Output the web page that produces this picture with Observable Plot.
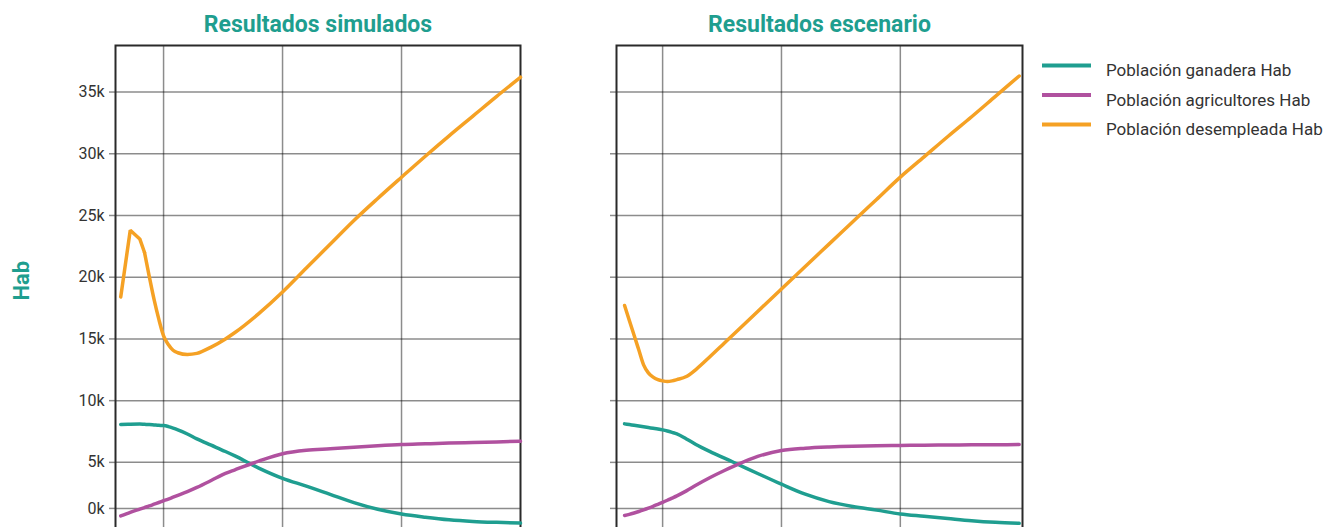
<!DOCTYPE html>
<html>
<head>
<meta charset="utf-8">
<script src="https://cdn.jsdelivr.net/npm/d3@7"></script>
<script src="https://cdn.jsdelivr.net/npm/@observablehq/plot@0.6"></script>
<style>
  html, body { margin: 0; padding: 0; background: #fff; overflow: hidden; width: 1338px; height: 527px; }
  #root { position: relative; width: 1338px; height: 527px; font-family: Roboto, "Noto Sans", sans-serif; }
  #root > * { position: absolute; }
</style>
</head>
<body>
<div id="root"></div>
<script>
// ---------------- DATA ----------------
const seriesNames = ["Población ganadera Hab", "Población agricultores Hab", "Población desempleada Hab"];
const seriesColors = ["#1f9e90", "#b0519f", "#f5a124"];
const panelTitles = ["Resultados simulados", "Resultados escenario"];
const yAxisLabel = "Hab";

const yTickValues = [1270, 5000, 10000, 15000, 20000, 25000, 30000, 35000];
const yTickLabels = ["0k", "5k", "10k", "15k", "20k", "25k", "30k", "35k"];
const xTickValues = [2025, 2050, 2075];

// Panel 1: Resultados simulados
const simYears = [2016, 2018, 2020, 2021, 2022, 2023, 2024, 2025, 2026, 2027, 2028, 2030, 2032, 2035, 2038, 2040, 2045, 2050, 2055, 2060, 2065, 2070, 2075, 2080, 2085, 2090, 2095, 2100];
const simGanadera = [8070, 8090, 8100, 8080, 8060, 8030, 8000, 7980, 7900, 7780, 7640, 7300, 6900, 6390, 5880, 5520, 4540, 3710, 3080, 2410, 1740, 1200, 820, 560, 350, 220, 140, 80];
const simAgricultores = [660, 950, 1210, 1340, 1470, 1610, 1750, 1890, 2030, 2180, 2330, 2630, 2970, 3530, 4110, 4400, 5100, 5700, 5980, 6100, 6220, 6340, 6440, 6500, 6560, 6610, 6660, 6710];
const simDesempleada = [18400, 23800, 23100, 22000, 20050, 18200, 16600, 15250, 14550, 14080, 13880, 13740, 13830, 14340, 15000, 15520, 17050, 18800, 20740, 22670, 24600, 26380, 28100, 29800, 31450, 33050, 34650, 36200];
// the early spike of the unemployed series is drawn with straight segments up to this year
const simSpikeEndYear = 2021;

// Panel 2: Resultados escenario
const escYears = [2017, 2018, 2019, 2020, 2021, 2022, 2023, 2024, 2025, 2026, 2027, 2028, 2030, 2032, 2035, 2038, 2040, 2045, 2050, 2055, 2060, 2065, 2070, 2075, 2080, 2085, 2090, 2095, 2100];
const escGanadera = [8120, 8060, 8000, 7940, 7880, 7820, 7760, 7700, 7630, 7540, 7430, 7310, 6900, 6450, 5870, 5340, 4990, 4100, 3230, 2420, 1820, 1420, 1130, 820, 635, 450, 270, 140, 60];
const escAgricultores = [700, 790, 900, 1020, 1150, 1290, 1440, 1600, 1760, 1930, 2110, 2290, 2690, 3140, 3770, 4340, 4690, 5480, 5960, 6150, 6250, 6310, 6340, 6370, 6390, 6410, 6420, 6430, 6440];
const escDesempleada = [17710, 16500, 15300, 14100, 12900, 12250, 11900, 11700, 11600, 11550, 11600, 11700, 11950, 12520, 13575, 14670, 15400, 17225, 19050, 20870, 22680, 24490, 26300, 28110, 29750, 31400, 33000, 34650, 36300];

// ---------------- STYLE ----------------
const titleColor = "#1f9e8f";
const textColor = "#333333";
const gridStroke = "#000000";
const gridOpacity = 0.45;

function toRows(years, seriesValues) {
  const rows = [];
  seriesNames.forEach((name, k) => {
    years.forEach((yr, i) => rows.push({year: yr, value: seriesValues[k][i], serie: name}));
  });
  return rows;
}

function makePanel({title, rows, spikeSerie, spikeEnd, xDomain, width, marginLeft, marginRight, showLabels, showHab}) {
  const isSpike = d => spikeSerie != null && d.serie === spikeSerie && d.year <= spikeEnd;
  const smoothRows = rows.filter(d => !(isSpike(d) && d.year < spikeEnd));
  const spikeRows = rows.filter(isSpike);
  const marks = [
    Plot.gridX(xTickValues, {stroke: gridStroke, strokeOpacity: gridOpacity, strokeWidth: 1.5}),
    Plot.gridY(yTickValues, {stroke: gridStroke, strokeOpacity: gridOpacity, strokeWidth: 1.5}),
    Plot.axisY(yTickValues, {
      tickSize: 6, tickPadding: 5,
      tickFormat: showLabels ? (d => yTickLabels[yTickValues.indexOf(d)]) : (() => ""),
      stroke: gridStroke, strokeOpacity: gridOpacity, strokeWidth: 1.5,
      fill: textColor, fontSize: 16, label: null
    }),
    Plot.frame({stroke: "#2a2a2a", strokeWidth: 2}),
    Plot.line(smoothRows, {x: "year", y: "value", z: "serie", stroke: "serie", strokeWidth: 3.5, curve: "monotone-x"}),
    Plot.line(spikeRows, {x: "year", y: "value", z: "serie", stroke: "serie", strokeWidth: 3.5, curve: "linear", strokeLinejoin: "miter"}),
    Plot.text([title], {text: d => d, frameAnchor: "top", lineAnchor: "middle", dy: -21, fontSize: 23, fontWeight: "bold", fill: titleColor})
  ];
  if (showHab) {
    marks.push(Plot.text([yAxisLabel], {text: d => d, frameAnchor: "left", dx: -94, dy: 12, rotate: -90, fontSize: 22, fontWeight: "bold", fill: titleColor}));
  }
  return Plot.plot({
    width, height: 561,
    marginLeft, marginRight, marginTop: 45, marginBottom: 30,
    style: {fontFamily: "Roboto, 'Noto Sans', sans-serif", background: "transparent", overflow: "visible"},
    x: {domain: xDomain, axis: null},
    y: {domain: [-600, 38770], axis: null},
    color: {domain: seriesNames, range: seriesColors},
    marks
  });
}

const root = document.getElementById("root");

const left = makePanel({
  title: panelTitles[0],
  rows: toRows(simYears, [simGanadera, simAgricultores, simDesempleada]),
  spikeSerie: seriesNames[2], spikeEnd: simSpikeEndYear,
  xDomain: [2014.9, 2100], width: 540, marginLeft: 115, marginRight: 20,
  showLabels: true, showHab: true
});
left.style.left = "0px"; left.style.top = "0px";
root.appendChild(left);

const right = makePanel({
  title: panelTitles[1],
  rows: toRows(escYears, [escGanadera, escAgricultores, escDesempleada]),
  spikeSerie: null, spikeEnd: null,
  xDomain: [2015.3, 2100.7], width: 480, marginLeft: 56, marginRight: 18,
  showLabels: false, showHab: false
});
right.style.left = "560px"; right.style.top = "0px";
root.appendChild(right);

// Legend
const legend = d3.create("svg")
  .attr("width", 308).attr("height", 110)
  .style("left", "1030px").style("top", "40px")
  .style("font-family", "Roboto, 'Noto Sans', sans-serif");
const item = legend.selectAll("g").data(seriesNames).join("g")
  .attr("transform", (d, i) => `translate(0, ${25.5 + i * 29.5})`);
item.append("line").attr("x1", 12).attr("x2", 61).attr("y1", 0).attr("y2", 0)
  .attr("stroke", (d, i) => seriesColors[i]).attr("stroke-width", 4);
item.append("text").attr("x", 76).attr("y", 10.5)
  .attr("fill", textColor).attr("font-size", 17).text(d => d);
root.appendChild(legend.node());
</script>
</body>
</html>
